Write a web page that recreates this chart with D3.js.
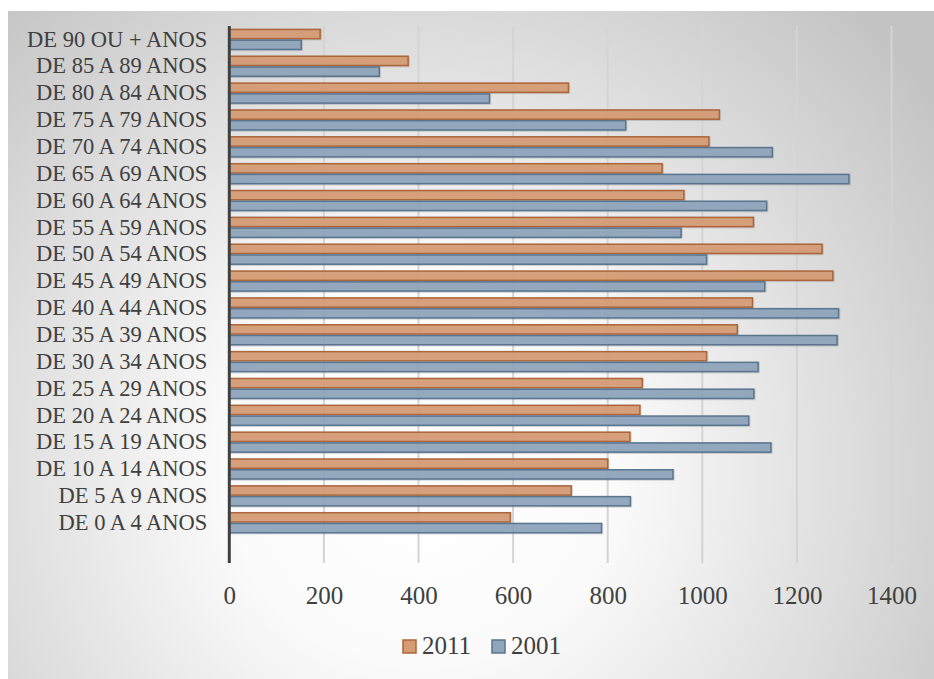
<!DOCTYPE html>
<html>
<head>
<meta charset="utf-8">
<script src="https://cdn.jsdelivr.net/npm/d3@7"></script>
<style>
  html, body { margin: 0; padding: 0; background: #ffffff; }
  svg { display: block; }
</style>
</head>
<body>
<script>
// ---- data (top to bottom as drawn) ----
const categories = [
  "DE 90 OU + ANOS", "DE 85 A 89 ANOS", "DE 80 A 84 ANOS", "DE 75 A 79 ANOS",
  "DE 70 A 74 ANOS", "DE 65 A 69 ANOS", "DE 60 A 64 ANOS", "DE 55 A 59 ANOS",
  "DE 50 A 54 ANOS", "DE 45 A 49 ANOS", "DE 40 A 44 ANOS", "DE 35 A 39 ANOS",
  "DE 30 A 34 ANOS", "DE 25 A 29 ANOS", "DE 20 A 24 ANOS", "DE 15 A 19 ANOS",
  "DE 10 A 14 ANOS", "DE 5 A 9 ANOS", "DE 0 A 4 ANOS", ""
];
const seriesNames = ["2011", "2001"];
const values2011 = [192, 378, 717, 1036, 1014, 915, 961, 1108, 1253, 1276, 1106, 1074, 1009, 873, 868, 847, 800, 723, 594];
const values2001 = [152, 317, 550, 838, 1148, 1310, 1136, 955, 1009, 1132, 1288, 1285, 1118, 1109, 1098, 1145, 938, 848, 787];
const xTicks = [0, 200, 400, 600, 800, 1000, 1200, 1400];

const W = 934, H = 679;
const FONT = "'Liberation Serif', 'Times New Roman', serif";
const TEXT = "#404040";
const fills = { "2011": "#d59c74", "2001": "#8ea5bc" };
const strokes = { "2011": "#ad653a", "2001": "#5a7590" };

const svg = d3.select("body").append("svg").attr("width", W).attr("height", H);
const defs = svg.append("defs");
const grad = defs.append("radialGradient").attr("id", "bg")
  .attr("gradientUnits", "userSpaceOnUse")
  .attr("cx", 420).attr("cy", 470).attr("r", 640);
grad.append("stop").attr("offset", 0).attr("stop-color", "#ffffff");
grad.append("stop").attr("offset", 0.3).attr("stop-color", "#fbfbfb");
grad.append("stop").attr("offset", 1).attr("stop-color", "#c3c3c3");

const sh = defs.append("filter").attr("id", "sh").attr("x", "-5%").attr("y", "-30%").attr("width", "110%").attr("height", "160%");
sh.append("feDropShadow").attr("dx", 0.6).attr("dy", 0.6).attr("stdDeviation", 0.6)
  .attr("flood-color", "#000").attr("flood-opacity", 0.25);

svg.append("rect").attr("x", 8).attr("y", 11).attr("width", W - 8).attr("height", H - 11)
  .attr("fill", "url(#bg)");

const x = d3.scaleLinear().domain([0, 1400]).range([229.3, 891.5]);
const y = d3.scaleBand().domain(categories).range([26, 563]).paddingInner(0).paddingOuter(0);
const y1 = d3.scaleBand().domain(seriesNames).range([0, y.bandwidth()]).paddingInner(0).paddingOuter(0.25);

// gridlines
svg.append("g").selectAll("line").data(xTicks.filter(d => d > 0)).join("line")
  .attr("x1", d => x(d)).attr("x2", d => x(d))
  .attr("y1", 26).attr("y2", 563)
  .attr("stroke", "#d4d4d4").attr("stroke-width", 2);

// bars
const rows = categories.slice(0, values2011.length).map((c, i) => ({
  cat: c, vals: [{ s: "2011", v: values2011[i] }, { s: "2001", v: values2001[i] }]
}));
const g = svg.append("g");
rows.forEach(r => {
  g.selectAll(null).data(r.vals).join("rect")
    .attr("x", x(0))
    .attr("y", d => y(r.cat) + y1(d.s) + 0.75)
    .attr("width", d => x(d.v) - x(0))
    .attr("height", y1.bandwidth() - 1.5)
    .attr("fill", d => fills[d.s]).attr("fill-opacity", 0.92)
    .attr("stroke", d => strokes[d.s]).attr("stroke-width", 1.5)
    .attr("filter", "url(#sh)");
});

// category axis
const yAxis = svg.append("g").attr("transform", `translate(${x(0)},0)`)
  .call(d3.axisLeft(y).tickSize(0).tickPadding(22));
yAxis.select(".domain").remove();
yAxis.selectAll("text").attr("font-family", FONT).attr("font-size", 22.5).attr("fill", TEXT);

// axis line at 0
svg.append("line").attr("x1", x(0)).attr("x2", x(0)).attr("y1", 26).attr("y2", 563)
  .attr("stroke", "#404040").attr("stroke-width", 3);

// value axis
const xAxis = svg.append("g").attr("transform", "translate(0,563)")
  .call(d3.axisBottom(x).tickValues(xTicks).tickSize(0).tickPadding(23).tickFormat(d3.format("d")));
xAxis.select(".domain").remove();
xAxis.selectAll("text").attr("font-family", FONT).attr("font-size", 25).attr("fill", TEXT);

// legend
const legendX = [403, 492];
const leg = svg.append("g");
seriesNames.forEach((s, i) => {
  leg.append("rect").attr("x", legendX[i]).attr("y", 640).attr("width", 13).attr("height", 13)
    .attr("fill", fills[s]).attr("stroke", strokes[s]).attr("stroke-width", 1.5);
  leg.append("text").attr("x", legendX[i] + 19).attr("y", 654)
    .attr("font-family", FONT).attr("font-size", 25).attr("fill", TEXT).text(s);
});
</script>
</body>
</html>
